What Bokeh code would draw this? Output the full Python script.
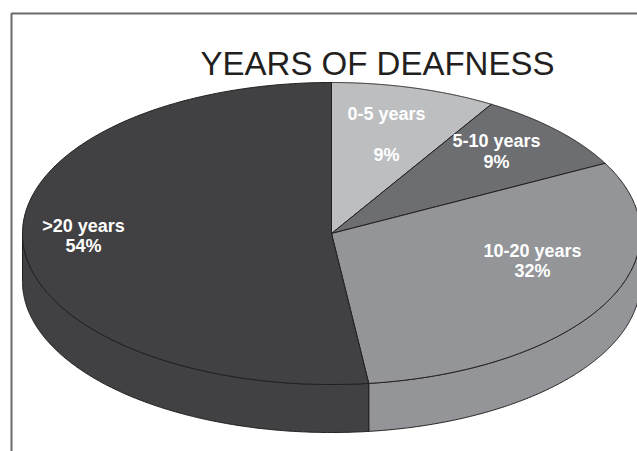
import numpy as np
from bokeh.plotting import figure
from bokeh.models import Range1d, ColumnDataSource
from bokeh.core.properties import value
from bokeh.embed import file_html
from bokeh.resources import INLINE

# ---- data ----
title_text = "YEARS OF DEAFNESS"
categories = ["0-5 years", "5-10 years", "10-20 years", ">20 years"]
percent = [9, 9, 32, 54]
colors = ["#bcbec0", "#6d6e71", "#939598", "#414042"]

# ---- layout ----
W, H = 637, 451
p = figure(width=W, height=H, output_backend="svg", toolbar_location=None,
           x_range=Range1d(0, W), y_range=Range1d(H, 0), min_border=0)
p.axis.visible = False
p.grid.visible = False
p.outline_line_color = None
p.background_fill_color = "white"
p.border_fill_color = "white"

# frame border (decoration)
p.line(x=[11, 11, 660], y=[470, 13, 13], line_color="#6a6a6a", line_width=2)

cx, cy, a, b, depth = 331, 233, 309, 151, 48
outline = "#231f20"

vals = np.array(percent, dtype=float)
frac = vals / vals.sum()
edges = 90 - 360 * np.concatenate([[0.0], np.cumsum(frac)])  # clockwise from top


def arc(t0, t1, n=240):
    t = np.radians(np.linspace(t0, t1, n))
    return cx + a * np.cos(t), cy - b * np.sin(t)


# side walls (front half only: angles between -180 and 0)
side_xs, side_ys, side_c = [], [], []
for i in range(len(vals)):
    t0, t1 = edges[i], edges[i + 1]
    hi, lo = min(t0, 0.0), max(t1, -180.0)
    if hi > lo:
        ax, ay = arc(hi, lo)
        side_xs.append(list(ax) + list(ax[::-1]))
        side_ys.append(list(ay) + list((ay + depth)[::-1]))
        side_c.append(colors[i])
p.patches(xs="xs", ys="ys", fill_color="c", line_color=outline, line_width=1,
          source=ColumnDataSource(dict(xs=side_xs, ys=side_ys, c=side_c)))

# top faces
top_xs, top_ys = [], []
for i in range(len(vals)):
    ax, ay = arc(edges[i], edges[i + 1])
    top_xs.append([cx] + list(ax))
    top_ys.append([cy] + list(ay))
p.patches(xs="xs", ys="ys", fill_color="c", line_color=outline, line_width=1,
          source=ColumnDataSource(dict(xs=top_xs, ys=top_ys, c=colors)))

# labels: centre x, baseline of name, baseline of percentage
label_x = [386, 496, 532, 83]
name_y = [113, 140, 250, 225]
pct_y = [154, 161, 270, 245]
font = value("Liberation Sans")
p.text(x=label_x, y=name_y, text=categories, text_color="white", text_font=font,
       text_font_size="18px", text_font_style="bold", text_align="center",
       text_baseline="alphabetic")
p.text(x=label_x, y=pct_y, text=[f"{v}%" for v in percent], text_color="white",
       text_font=font, text_font_size="18px", text_font_style="bold",
       text_align="center", text_baseline="alphabetic")

# title
p.text(x=[377], y=[63], text=[title_text], text_color="#231f20", text_font=font,
       text_font_size="33px", text_align="center", text_baseline="alphabetic")

open("out.html", "w").write(file_html(p, INLINE))
